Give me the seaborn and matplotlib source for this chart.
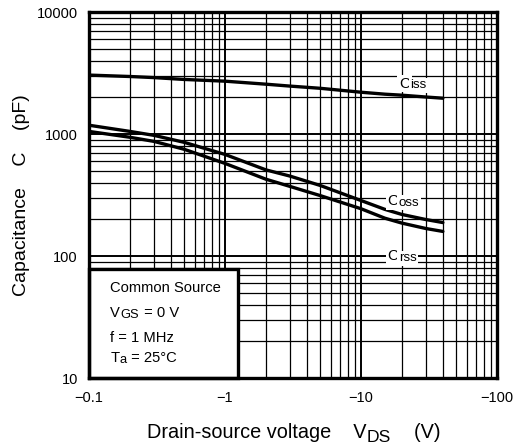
import matplotlib
matplotlib.use("Agg")
import matplotlib.pyplot as plt
from matplotlib.patches import Rectangle
from matplotlib.ticker import FixedLocator, NullFormatter, LogLocator
import numpy as np
import pandas as pd
import seaborn as sns

# Drain-source voltage magnitudes |VDS| (V)
vds = [0.1, 0.2, 0.3, 0.5, 1, 2, 3, 5, 10, 15, 20, 30, 40]
# Capacitances (pF)
ciss = [3040, 2960, 2900, 2800, 2710, 2560, 2470, 2370, 2200, 2120, 2080, 2010, 1965]
coss = [1180, 1050, 975, 855, 680, 508, 452, 379, 285, 241, 219, 199, 188]
crss = [1050, 940, 870, 750, 574, 426, 372, 313, 244, 204, 186, 168, 159]

x_ticks = [0.1, 1, 10, 100]
x_tick_labels = ["\u22120.1", "\u22121", "\u221210", "\u2212100"]
y_ticks = [10, 100, 1000, 10000]
y_tick_labels = ["10", "100", "1000", "10000"]

sns.set_style("white")
plt.rcParams["font.family"] = ["Liberation Sans", "DejaVu Sans"]
plt.rcParams["text.color"] = "black"
plt.rcParams["axes.labelcolor"] = "black"
plt.rcParams["xtick.color"] = "black"
plt.rcParams["ytick.color"] = "black"

df = pd.DataFrame({
    "V": vds * 3,
    "C": ciss + coss + crss,
    "series": ["Ciss"] * len(vds) + ["Coss"] * len(vds) + ["Crss"] * len(vds),
})

fig = plt.figure(figsize=(5.19, 4.48), dpi=100)
ax = fig.add_axes([89 / 519, 70 / 448, 408 / 519, 366 / 448])

ax.set_xscale("log")
ax.set_yscale("log")
ax.set_xlim(0.1, 100)
ax.set_ylim(10, 10000)

# Grid lines: decades and 2..9 subdivisions
ax.xaxis.set_major_locator(FixedLocator(x_ticks))
ax.yaxis.set_major_locator(FixedLocator(y_ticks))
ax.xaxis.set_minor_locator(LogLocator(base=10, subs=np.arange(2, 10)))
ax.yaxis.set_minor_locator(LogLocator(base=10, subs=np.arange(2, 10)))
ax.xaxis.set_minor_formatter(NullFormatter())
ax.yaxis.set_minor_formatter(NullFormatter())
ax.grid(True, which="major", color="black", linewidth=1.4, zorder=1)
ax.grid(True, which="minor", color="black", linewidth=0.9, zorder=1)
ax.set_axisbelow(True)

sns.lineplot(data=df, x="V", y="C", hue="series", units="series", estimator=None,
             palette=["black", "black", "black"], linewidth=2.4, legend=False,
             ax=ax, zorder=3)

ax.set_xticklabels(x_tick_labels)
ax.set_yticklabels(y_tick_labels)
ax.tick_params(axis="both", which="both", length=0, labelsize=10.5)
ax.tick_params(axis="x", pad=9)
ax.tick_params(axis="y", pad=8)

for sp in ax.spines.values():
    sp.set_linewidth(2.4)
    sp.set_color("black")
    sp.set_zorder(6)

ax.set_xlabel("")
ax.set_ylabel("Capacitance    C    (pF)", fontsize=14, labelpad=5)


def chained_text(x, y, parts, size, transform, bbox=None, zorder=5, sub_dy=-0.6):
    """Draw text pieces left to right; pieces flagged True are lowered subscripts."""
    first_txt, _ = parts[0]
    kw = dict(zorder=zorder)
    if bbox is not None:
        kw["bbox"] = bbox
    prev = ax.text(x, y, first_txt, fontsize=size, transform=transform,
                   ha="left", va="baseline", clip_on=False, **kw)
    prev_sub = False
    for txt, is_sub in parts[1:]:
        if is_sub:
            dy = sub_dy
            fs = size * 0.88
        else:
            dy = -sub_dy if prev_sub else 0.0
            fs = size
        prev = ax.annotate(txt, xy=(1, 0), xycoords=prev, xytext=(0.3, dy),
                           textcoords="offset points", fontsize=fs,
                           ha="left", va="bottom", annotation_clip=False, **kw)
        prev_sub = is_sub
    return prev


# Axis title with subscript
chained_text(147 / 519, 0.022,
             [("Drain-source voltage    V", False), ("DS", True), ("    (V)", False)],
             14.3, fig.transFigure, sub_dy=-1.8)

# Curve labels
lab_bbox = dict(facecolor="white", edgecolor="none", pad=1.2)
for name, sub, xv, yv in [("C", "iss", 19.0, 2400), ("C", "oss", 15.6, 262),
                          ("C", "rss", 15.6, 92)]:
    chained_text(xv, yv, [(name, False), (sub, True)], 11, ax.transData,
                 bbox=lab_bbox)

# Measurement conditions box
ax.add_patch(Rectangle((0, 0), 0.365, 0.298, transform=ax.transAxes,
                       facecolor="white", edgecolor="black", linewidth=2.4,
                       zorder=4, clip_on=False))
cond = [
    [("Common Source", False)],
    [("V", False), ("GS", True), (" = 0 V", False)],
    [("f = 1 MHz", False)],
    [("T", False), ("a", True), (" = 25\u00b0C", False)],
]
ys = [0.234, 0.166, 0.098, 0.043]
for parts, yy in zip(cond, ys):
    chained_text(0.052, yy, parts, 10.6, ax.transAxes)

fig.savefig("out.png", dpi=100)
